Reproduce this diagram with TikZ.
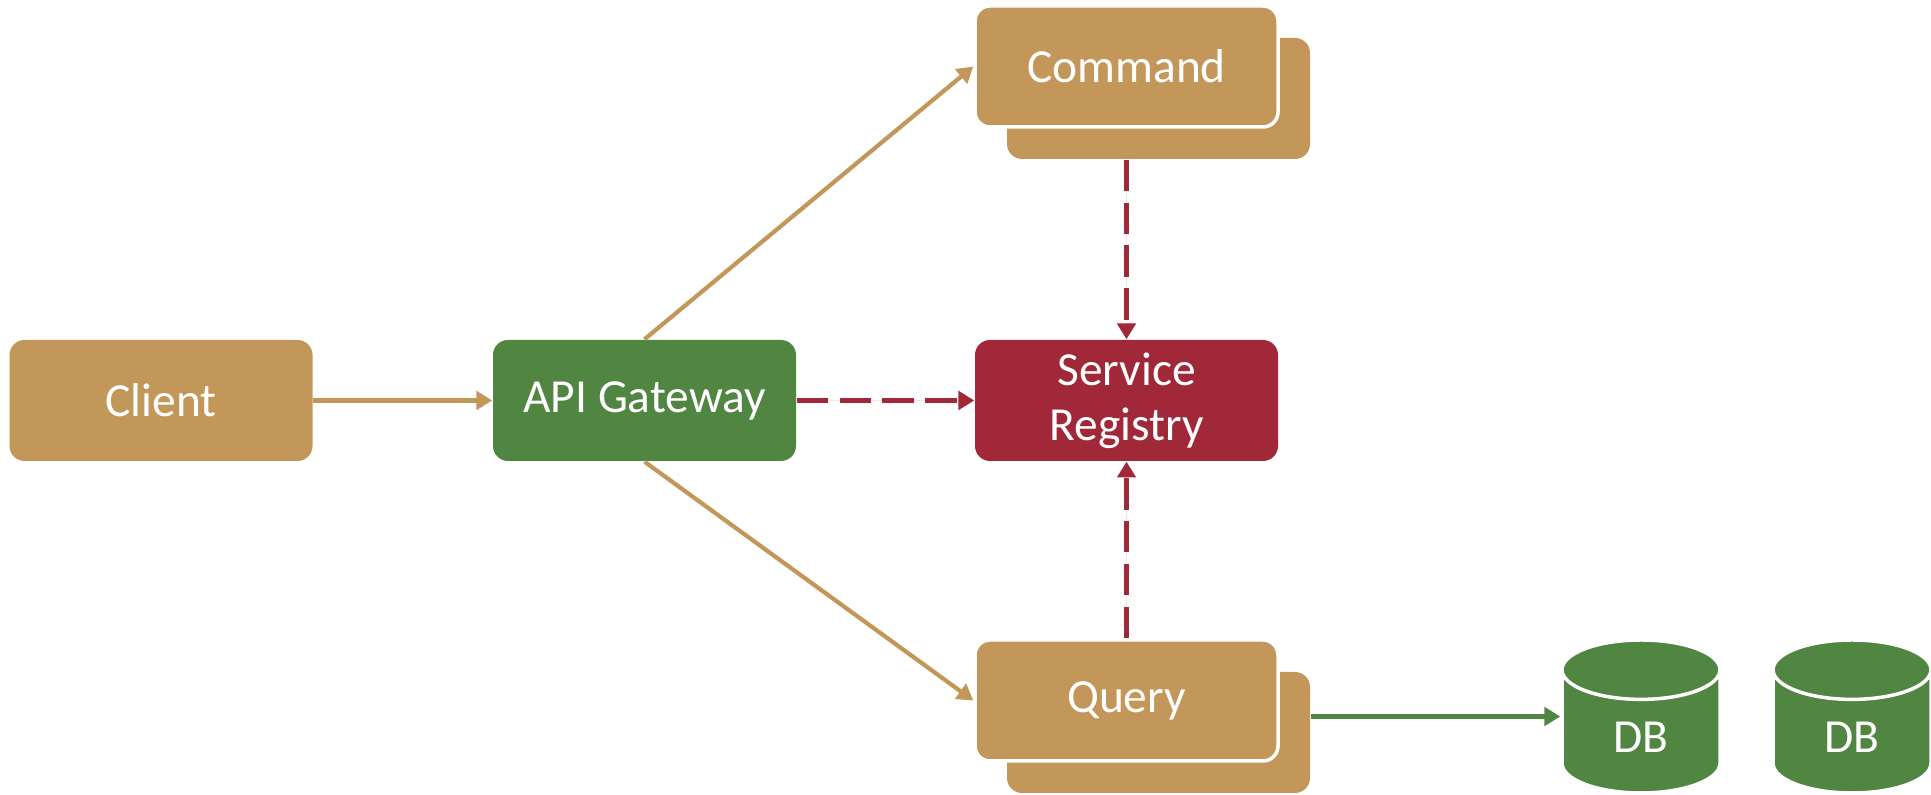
\documentclass[tikz,border=0pt]{standalone}
\usepackage{fontspec}
\setmainfont{Carlito}
\usepackage{tikz}
\usetikzlibrary{arrows.meta,shapes.geometric}
\definecolor{tanc}{HTML}{C39759}
\definecolor{greenc}{HTML}{508642}
\definecolor{redc}{HTML}{A02838}
\tikzset{
  box/.style={rectangle, rounded corners=0.15cm, minimum width=3.03cm, minimum height=1.21cm, inner sep=0pt, text=white, align=center, font=\fontsize{13.5pt}{15.6pt}\selectfont},
  tanbox/.style={box, fill=tanc},
  greenbox/.style={box, fill=greenc},
  redbox/.style={box, fill=redc},
  frontbox/.style={tanbox, draw=white, line width=1pt},
  store/.style={cylinder, shape border rotate=90, aspect=1.08, minimum width=1.58cm, minimum height=1.53cm, inner sep=0pt,
    text height=0.4cm, text depth=0cm, anchor=shape center,
    fill=greenc, draw=white, line width=1pt, text=white, font=\fontsize{13.5pt}{15.6pt}\selectfont},
  flow/.style={-{Triangle[length=4.5pt,width=5.2pt]}, line width=1.2pt, draw=tanc, fill=tanc},
  lookup/.style={-{Triangle[length=4.5pt,width=5.2pt]}, line width=1.2pt, draw=redc, fill=redc, dash pattern=on 9pt off 3.2pt},
  dbflow/.style={-{Triangle[length=4.5pt,width=5.2pt]}, line width=1.2pt, draw=greenc, fill=greenc}
}
\begin{document}
\begin{tikzpicture}
  \useasboundingbox (0,0) rectangle (19.31,7.95);
  \node[tanbox] (client) at (1.61,3.945) {Client};
  \node[greenbox] (gw) at (6.445,3.945) {API Gateway};
  \node[redbox] (reg) at (11.265,3.945) {Service\\Registry};
  \node[tanbox] (cmdb) at (11.585,6.965) {};
  \node[frontbox] (cmd) at (11.265,7.285) {Command};
  \node[tanbox] (qryb) at (11.585,0.625) {};
  \node[frontbox] (qry) at (11.265,0.945) {Query};
  \node[store] (db1) at (16.41,0.785) {DB};
  \node[store] (db2) at (18.52,0.785) {DB};

  \draw[flow] (client) -- (gw);
  \draw[flow] (gw.north) -- (cmd.west);
  \draw[flow] (gw.south) -- (qry.west);
  \draw[lookup] (gw) -- (reg);
  \draw[lookup] (cmdb.south -| cmd.south) -- (reg.north);
  \draw[lookup] (qry.north) -- (reg.south);
  \draw[dbflow] (db1.shape center -| qryb.east) -- (db1.shape center -| db1.west);
\end{tikzpicture}
\end{document}
